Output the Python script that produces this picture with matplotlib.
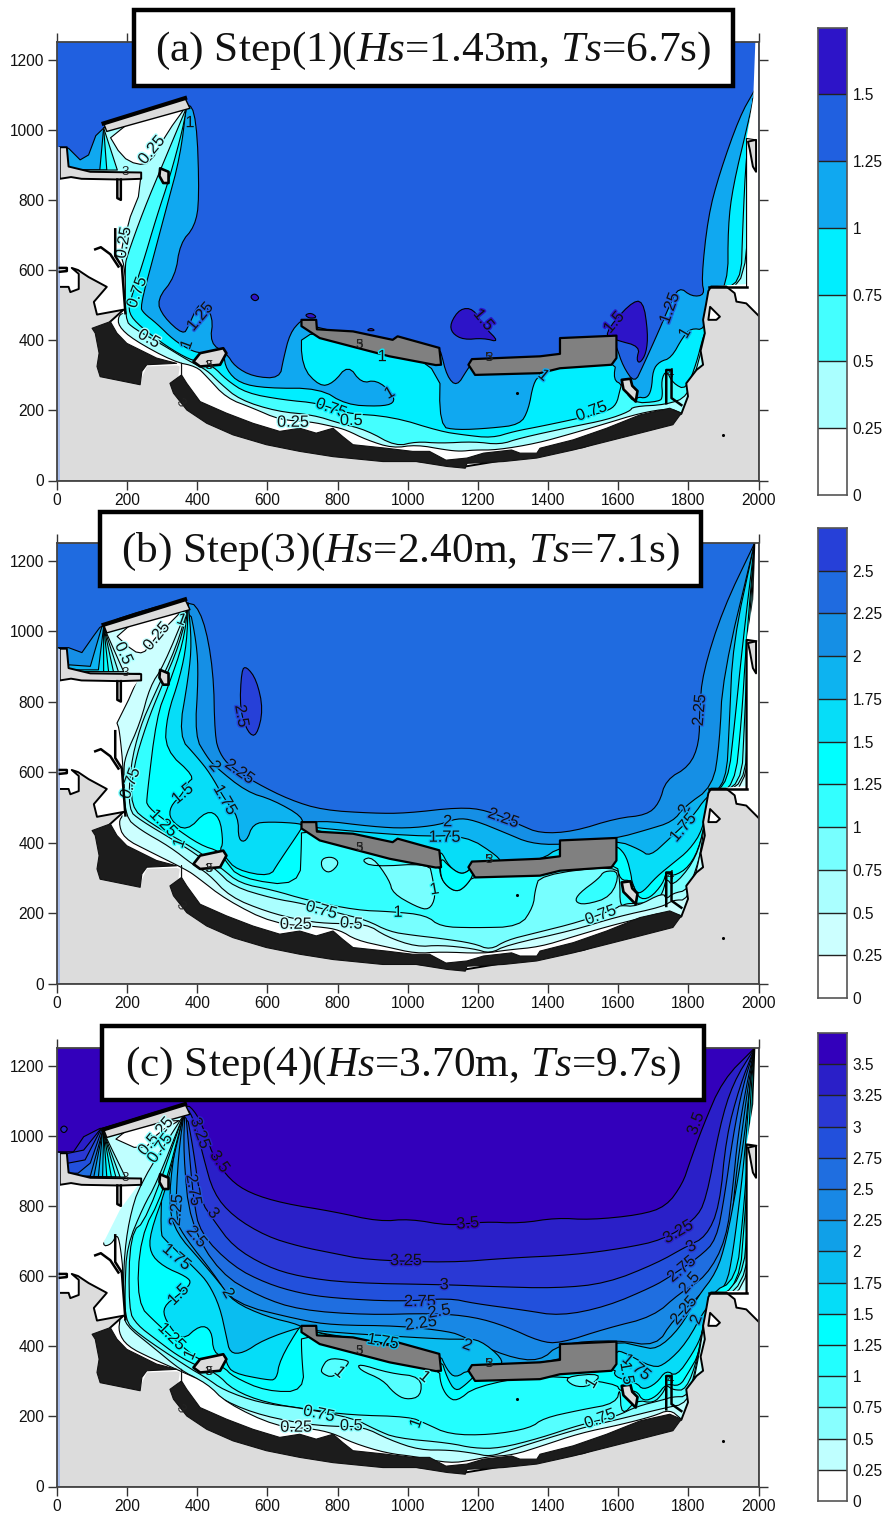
import matplotlib
matplotlib.use("Agg")
import matplotlib.pyplot as plt
import matplotlib.patheffects as pe
from matplotlib.patches import Rectangle

plt.rcParams['font.family'] = ['Liberation Sans', 'DejaVu Sans']
plt.rcParams['mathtext.fontset'] = 'custom'
plt.rcParams['mathtext.it'] = 'Liberation Serif:italic'
plt.rcParams['mathtext.rm'] = 'Liberation Serif'

W, H = 885, 1514

# ---------- band colours (lowest band first) ----------
COLORS_A = ['#FFFFFF', '#AAFFFF', '#44FFFF', '#00EEFF', '#10A8F0', '#2060E0', '#2D14C8']
COLORS_B = ['#FFFFFF', '#CCFFFF', '#AAFFFF', '#77FFFF', '#33FFFF', '#00FFFF', '#06DDF8',
            '#0DB3F0', '#158FE5', '#1F6BE0', '#2640D8']
COLORS_C = ['#FFFFFF', '#BFFFFF', '#88FFFF', '#55FFFF', '#22FFFF', '#00FFFF', '#05DDF8',
            '#0ABDF0', '#10A0E8', '#1888E5', '#1F6EE0', '#2250DC', '#2A38D4', '#2A1FC8', '#3300BB']
CB_LABELS_A = ['0', '0.25', '0.5', '0.75', '1', '1.25', '1.5']
CB_LABELS_B = CB_LABELS_A + ['1.75', '2', '2.25', '2.5']
CB_LABELS_C = CB_LABELS_B + ['2.75', '3', '3.25', '3.5']

# ---------- coast geometry shared by the panels ----------
WEST_WHITE = [(8,860),(232,860),(180,790),(125,680),(166,640),(185,610),(195,477),(8,477)]
EAST_WHITE = [(1860,553),(1908,553),(1932,534),(1937,510),(1965,505),(1993,477),(2000,470),
              (2000,1250),(1991,1250),(1985,1090),(1966,975),(1966,560)]
LAND_MAIN = [(8,552),(33,552),(38,537),(62,546),(62,589),(42,606),(60,600),(90,580),(142,552),(105,509),
             (114,473),(190,487),(152,453),(100,434),(130,420),(130,320),(180,290),(240,290),(256,325),
             (341,328),(350,325),(345,290),(400,200),(500,150),(900,70),(1164,40),(1500,95),(1780,190),
             (1799,240),(1794,277),(1823,315),(1842,330),(1835,370),(1847,420),(1842,458),(1850,500),
             (1857,540),(1865,553),(1908,553),(1932,534),(1937,510),(1965,505),(1993,477),(2000,470),
             (2000,0),(8,0)]
NORTH_STRIP = [(8,950),(28,950),(33,895),(95,880),(240,878),(240,860),(180,858),(70,860),(40,865),(8,860)]
EAST_POCKET_GRAY = [(1970,966),(1993,971),(1993,880),(1984,895),(1975,944)]
EAST_POCKET_WHITE = [(1862,495),(1890,467),(1880,458),(1857,458)]
BLACK_WEST = [(100,434),(152,453),(171,420),(199,391),(284,349),(341,334),(256,330),(242,311),
              (237,273),(123,296),(114,325),(120,363),(109,420)]
BLACK_SOUTH = [(355,334),(355,301),(370,277),(408,225),(483,192),(559,163),(635,140),(692,149),
               (739,135),(787,149),(815,125),(844,102),(939,92),(1014,83),(1062,83),(1109,58),
               (1169,64),(1216,78),(1296,87),(1320,78),(1368,78),(1377,92),(1472,116),(1567,149),
               (1662,187),(1747,206),(1780,192),(1756,159),(1662,135),(1567,111),(1472,87),
               (1368,64),(1273,54),(1169,49),(1164,35),(1112,40),(1024,54),(929,54),(787,68),
               (692,83),(597,102),(502,130),(427,163),(370,201),(332,249),(322,277),(355,301)]
WEST_BW = [(697,458),(739,458),(741,431),(844,425),(957,401),(971,411),(1090,378),(1095,330),
           (1080,329),(948,354),(749,406),(697,440)]
EAST_BW = [(1173,330),(1183,346),(1377,354),(1434,361),(1434,406),(1595,413),(1595,349),(1581,330),
           (1434,320),(1377,306),(1192,301)]
NW_BW = [(133,1018),(365,1090),(379,1061),(142,995)]
ISLE_SMALL = [(294,890),(318,880),(318,848),(303,848),(292,868)]
ISLE_WEST = [(389,339),(408,363),(474,377),(483,363),(465,330),(408,325)]
ISLE_EAST = [(1610,287),(1635,290),(1640,270),(1655,255),(1650,225),(1615,260)]
PIER_A = [(172,858),(172,805),(182,800),(182,858)]
PIER_B = [(166,716),(166,640),(185,610),(195,477)]
PIER_C = [(109,659),(125,665),(152,645),(175,610)]
PIER_D = [(1737,220),(1737,315),(1752,315),(1752,235),(1780,215)]
PIER_F = [(8,595),(28,597),(28,606),(8,606)]
EAST_EDGE = [(1966,553),(1966,975),(1993,971)]
EAST_SILL = [(1860,553),(1966,553)]
DOTS = [(1900,130),(1312,250)]
LAND_TEXT = [(860,385,'5',0),(862,385,'3',0),(1230,350,'5',0),(1232,350,'3',0),(432,325,'3',0),
             (434,325,'5',0),(350,220,'3',-50),(195,880,'3',0),(1748,305,'4',0)]

# ---------- panel (a): region below each contour level ----------
A_125 = [(33,947),(66,914),(90,928),(123,1016),(370,1085),(398,1037),(406,800),(393,724),(351,676),
         (337,581),(284,515),(303,467),(360,415),(375,440),(408,515),(446,467),(436,391),(483,363),
         (507,325),(559,296),(635,291),(645,344),(664,420),(697,458),(697,445),(1093,360),(1093,372),
         (1112,296),(1140,268),(1169,315),(1180,330),(1377,335),(1590,385),(1595,382),(1614,325),
         (1647,277),(1670,325),(1717,429),(1745,496),(1773,553),(1810,524),(1847,529),(1837,572),
         (1856,752),(1889,876),(1946,1037),(1989,1113)]
A_100 = [(122,885),(133,1005),(370,1075),(351,923),(313,781),(275,638),(237,496),(247,477),(284,448),
         (332,401),(379,372),(408,363),(474,363),(483,315),(521,277),(597,263),(749,263),(824,216),
         (919,211),(962,220),(957,249),(910,287),(868,277),(830,330),(787,277),(749,268),(697,325),
         (697,445),(1093,350),(1090,154),(1140,144),(1235,149),(1320,159),(1344,201),(1358,277),
         (1377,301),(1377,330),(1595,345),(1586,287),(1612,273),(1609,239),(1638,211),(1652,239),
         (1681,234),(1695,258),(1699,315),(1718,339),(1751,349),(1785,410),(1808,434),(1846,429),
         (1855,500),(1913,556),(1913,724),(1927,838),(1970,1018),(1989,1104)]
A_075 = [(142,885),(133,1005),(370,1070),(360,1008),(322,866),(284,752),(242,610),(209,515),(204,477),
         (237,439),(313,382),(379,344),(408,340),(446,325),(483,287),(540,249),(644,230),(749,220),
         (815,192),(957,182),(1093,140),(1159,130),(1240,121),(1303,140),(1377,154),(1491,178),
         (1567,197),(1595,216),(1605,258),(1612,282),(1638,220),(1718,225),(1727,239),(1723,287),
         (1737,315),(1756,277),(1794,258),(1823,334),(1842,410),(1852,429),(1870,550),(1950,556),
         (1955,724),(1965,930),(1985,1090)]
A_050 = [(172,885),(133,1005),(370,1065),(303,905),(247,771),(199,638),(194,610),(194,458),(218,434),
         (294,391),(379,339),(427,315),(465,277),(521,230),(626,197),(730,187),(806,163),(882,144),
         (966,97),(1024,111),(1093,106),(1188,111),(1263,102),(1320,121),(1472,154),(1567,173),
         (1633,197),(1642,211),(1737,216),(1799,239),(1828,334),(1852,434),(1875,550),(1966,556),
         (1972,900),(1988,1095)]
A_025 = [(240,875),(232,809),(209,752),(199,714),(180,648),(195,600),(194,480),(175,470),(175,440),
         (218,401),(332,339),(398,325),(427,296),(483,235),(559,206),(635,173),(720,168),(787,154),
         (825,144),(882,116),(957,92),(1024,102),(1109,87),(1150,83),(1188,87),(1254,87),(1368,106),
         (1472,135),(1567,163),(1662,192),(1747,206),(1780,192)]
A_TRI = [(142,995),(185,923),(228,900),(266,905),(313,990),(375,1076)]
A_P1 = [(1121,448),(1149,490),(1187,490),(1216,440),(1262,394),(1216,406),(1159,401),(1126,420)]
A_P2 = [(1557,415),(1633,505),(1671,515),(1685,420),(1680,363),(1662,334),(1652,344),(1662,382),(1595,400)]
A_P3 = [(550,524),(564,534),(578,520),(564,510)]
A_P4 = [(706,472),(725,478),(742,465),(720,462)]
A_P5 = [(882,427),(895,435),(908,427)]
A_BASE = (5, [(6,A_P1),(6,A_P2),(6,A_P3),(6,A_P4),(6,A_P5)])
A_LEVELS = [(5,A_125,[]),(4,A_100,[]),(3,A_075,[]),(2,A_050,[]),(1,A_025,[(0,A_TRI)])]
A_TEXT = [(270,942,'0.25',50,1),(190,678,'0.25',80,1),(228,536,'0.75',70,2),(408,467,'1.25',50,5),
          (370,387,'1',70,4),(379,1020,'1',0,4),(262,404,'0.5',-30,1),(782,206,'0.75',-20,3),
          (673,166,'0.25',0,1),(839,171,'0.5',0,2),(948,249,'1',30,4),(1216,458,'1.5',-50,6),
          (1588,450,'1.5',50,6),(1747,491,'1.25',70,5),(1790,420,'1',60,4),(1524,197,'0.75',20,3),
          (1387,300,'1',-40,4),(927,353,'1',0,3)]

# ---------- panel (b) ----------
B_225 = [(33,953),(71,939),(104,986),(133,1025),(374,1095),(417,1042),(446,890),(450,701),(464,653),
         (493,616),(569,568),(664,521),(758,492),(901,483),(995,483),(1147,500),(1225,492),(1320,450),
         (1377,426),(1472,431),(1595,469),(1681,478),(1717,511),(1736,578),(1803,616),(1831,682),
         (1832,776),(1841,881),(1898,1061),(1989,1250)]
B_200 = [(38,904),(95,900),(128,1013),(374,1085),(398,966),(403,871),(393,701),(427,644),(450,616),
         (540,544),(616,521),(701,473),(697,445),(744,464),(901,445),(995,440),(1090,450),(1140,469),
         (1188,464),(1282,426),(1348,398),(1434,393),(1595,412),(1681,436),(1756,459),(1789,502),
         (1870,559),(1889,682),(1898,872),(1989,1250)]
B_175 = [(118,890),(133,1013),(374,1080),(384,966),(375,871),(346,701),(398,644),(436,597),(479,521),
         (517,473),(517,407),(540,402),(559,454),(607,459),(697,454),(697,445),(1024,417),(1164,421),
         (1259,360),(1265,340),(1380,350),(1434,388),(1595,407),(1662,380),(1690,360),(1747,412),
         (1813,474),(1851,530),(1908,568),(1917,739),(1927,966),(1989,1250)]
B_150 = [(133,885),(133,1013),(374,1078),(370,966),(351,871),(313,758),(308,663),(393,587),(370,568),
         (358,538),(322,502),(322,464),(370,431),(427,492),(464,473),(474,398),(464,379),(479,360),
         (512,322),(607,303),(630,341),(701,445),(697,445),(1090,350),(1093,379),(1118,332),(1150,310),
         (1172,318),(1180,330),(1377,335),(1590,385),(1600,388),(1624,360),(1638,303),(1638,293),
         (1652,256),(1671,260),(1709,303),(1756,341),(1803,379),(1841,436),(1861,540),(1913,568),
         (1932,739),(1955,966),(1989,1250)]
B_125 = [(147,885),(133,1013),(374,1076),(360,966),(317,843),(284,758),(256,530),(256,502),(332,445),
         (408,393),(464,375),(479,350),(521,298),(692,275),(697,398),(697,445),(1090,340),(1093,303),
         (1112,275),(1140,260),(1164,275),(1188,308),(1377,320),(1595,345),(1605,293),(1638,293),
         (1657,241),(1690,241),(1728,284),(1737,317),(1756,303),(1803,331),(1836,398),(1861,530),
         (1932,558),(1951,739),(1965,966),(1989,1250)]
B_100 = [(161,885),(133,1013),(374,1074),(351,966),(294,833),(256,739),(218,616),(209,502),(265,455),
         (398,379),(469,327),(521,284),(616,265),(711,237),(853,208),(954,204),(1052,194),(1093,161),
         (1188,158),(1320,161),(1358,218),(1363,265),(1377,308),(1595,335),(1605,293),(1605,218),
         (1624,227),(1652,227),(1709,232),(1728,260),(1737,300),(1756,275),(1813,341),(1841,417),
         (1855,540),(1951,558),(1960,739),(1970,966),(1989,1250)]
B_075 = [(175,885),(133,1013),(374,1072),(341,956),(275,814),(237,729),(209,616),(204,492),(237,464),
         (332,407),(394,369),(455,322),(502,275),(616,241),(701,227),(806,199),(882,180),(948,147),
         (1014,137),(1093,128),(1188,114),(1235,95),(1282,123),(1358,142),(1491,175),(1595,213),
         (1605,222),(1652,218),(1728,258),(1737,239),(1756,256),(1799,265),(1828,341),(1851,445),
         (1860,540),(1960,558),(1970,739),(1976,966),(1989,1250)]
B_050 = [(190,885),(133,1013),(374,1070),(303,900),(265,843),(237,739),(194,644),(190,597),(194,473),
         (237,436),(322,388),(389,336),(431,312),(493,246),(597,204),(692,180),(768,170),(882,170),
         (939,133),(1024,104),(1093,109),(1188,99),(1235,85),(1282,109),(1472,151),(1595,189),(1728,218),
         (1756,237),(1799,237),(1832,350),(1851,492),(1965,558),(1975,739),(1982,966),(1989,1250)]
B_025 = [(237,880),(204,805),(171,739),(178,720),(190,600),(190,480),(175,459),(190,412),(265,374),
         (370,322),(398,303),(483,237),(616,170),(749,161),(806,152),(853,123),(939,104),(1024,85),
         (1093,90),(1216,85),(1282,95),(1377,104),(1472,133),(1567,161),(1662,185),(1737,204),(1780,192)]
B_TRI = [(156,999),(218,942),(246,937),(265,960),(284,985),(360,1061),(370,1075)]
B_P25 = [(526,890),(540,900),(569,862),(588,777),(569,701),(545,710),(521,777)]
B_LOW1 = [(754,355),(787,360),(806,341),(777,312),(754,327)]
B_LOW2 = [(867,350),(900,360),(948,293),(957,256),(1024,218),(1061,208),(1080,246),(1070,303),
          (1061,341),(900,331)]
B_HIGH1 = [(1560,320),(1545,298),(1488,256),(1476,232),(1505,223),(1581,246),(1605,318)]
B_POCKET_150 = [(1093,360),(1118,332),(1150,310),(1172,318),(1180,330),(1188,308),(1164,275),(1140,260),(1112,275),(1093,303)]
B_BASE = (9, [(10,B_P25)])
B_LEVELS = [(9,B_225,[]),(8,B_200,[]),(7,B_175,[]),(6,B_150,[]),(5,B_125,[(5,B_POCKET_150)]),
            (4,B_100,[(3,B_LOW1),(3,B_LOW2),(4,B_HIGH1)]),(3,B_075,[]),(2,B_050,[]),(1,B_025,[(0,B_TRI)])]
B_TEXT = [(284,985,'0.25',50,1),(190,937,'0.5',-65,2),(355,1032,'1',-20,3),(526,759,'2.5',-80,10),
          (450,616,'2',-50,8),(521,601,'2.25',-35,9),(479,521,'1.75',-60,7),(358,538,'1.5',40,6),
          (303,455,'1.25',-45,5),(349,398,'1',70,4),(209,568,'0.75',70,3),(754,208,'0.75',-15,3),
          (681,168,'0.25',0,1),(839,170,'0.5',-5,2),(972,202,'1',0,4),(1076,267,'1',10,4),
          (1114,459,'2',0,8),(1105,415,'1.75',0,7),(1273,469,'2.25',-20,9),(1832,776,'2.25',85,9),
          (1789,494,'2',65,8),(1785,442,'1.75',50,7),(1550,194,'0.75',20,3)]

# ---------- panel (c) ----------
C_350 = [(47,954),(76,997),(123,1021),(133,1020),(365,1095),(398,1064),(427,997),(446,940),(493,874),
         (550,836),(645,807),(787,784),(919,755),(1005,763),(1119,743),(1216,755),(1320,750),(1424,766),
         (1519,760),(1661,774),(1737,798),(1784,864),(1803,921),(1841,1026),(1898,1159),(1989,1250)]
C_325 = [(33,950),(76,959),(125,1020),(365,1090),(393,1040),(417,940),(446,836),(502,770),(597,713),
         (692,684),(787,665),(882,646),(1119,638),(1282,651),(1472,660),(1614,679),(1728,703),(1818,760),
         (1851,817),(1889,1026),(1927,1150),(1989,1250)]
C_300 = [(33,922),(80,931),(125,1018),(365,1088),(389,960),(408,817),(446,760),(502,684),(597,627),
         (692,598),(834,580),(1119,575),(1235,570),(1424,565),(1567,579),(1709,636),(1794,684),(1851,712),
         (1889,798),(1908,997),(1946,1140),(1989,1250)]
C_275 = [(60,893),(95,922),(127,1015),(365,1086),(374,988),(389,817),(408,722),(502,627),(597,579),
         (692,551),(787,537),(976,527),(1119,537),(1188,522),(1330,503),(1434,486),(1567,513),(1700,570),
         (1747,598),(1832,655),(1880,703),(1903,826),(1927,997),(1955,1140),(1989,1250)]
C_250 = [(95,885),(130,1013),(365,1084),(360,950),(379,750),(464,608),(578,541),(692,503),(882,489),
         (1071,494),(1188,484),(1282,456),(1377,413),(1434,408),(1567,451),(1700,484),(1775,551),(1851,598),
         (1908,703),(1927,855),(1941,997),(1965,1140),(1989,1250)]
C_225 = [(105,883),(130,1012),(365,1082),(346,950),(337,760),(370,703),(446,608),(502,522),(692,475),
         (787,460),(976,458),(1119,442),(1159,427),(1282,370),(1377,356),(1434,408),(1595,418),(1709,399),
         (1756,475),(1851,561),(1917,665),(1932,855),(1951,997),(1970,1140),(1989,1250)]
C_200 = [(118,882),(130,1011),(365,1080),(332,950),(318,798),(341,722),(408,646),(464,580),(502,527),
         (597,484),(697,460),(697,445),(1093,420),(1159,420),(1206,418),(1270,365),(1265,340),(1434,360),
         (1595,415),(1660,400),(1710,390),(1775,450),(1826,540),(1880,610),(1908,700),(1938,855),(1960,1000),
         (1975,1140),(1989,1250)]
C_175 = [(130,882),(133,1010),(365,1078),(303,931),(294,722),(308,703),(398,617),(432,579),(464,513),
         (483,427),(493,380),(531,380),(588,418),(697,456),(697,445),(1088,385),(1112,332),(1136,309),
         (1176,335),(1377,335),(1595,380),(1605,389),(1700,337),(1737,351),(1794,408),(1851,513),(1908,570),
         (1927,665),(1951,855),(1965,997),(1975,1140),(1989,1250)]
C_150 = [(142,882),(133,1010),(365,1076),(313,855),(265,722),(265,665),(303,627),(370,598),(384,579),
         (346,546),(303,513),(308,475),(355,413),(408,461),(441,446),(446,380),(483,370),(483,351),(502,323),
         (597,304),(626,304),(635,361),(697,465),(697,445),(1093,370),(1112,310),(1136,270),(1165,290),
         (1195,320),(1377,335),(1595,340),(1586,313),(1652,296),(1671,275),(1709,294),(1737,332),(1766,313),
         (1813,380),(1841,437),(1861,551),(1937,589),(1955,760),(1970,950),(1979,1140),(1989,1250)]
C_125 = [(155,882),(133,1010),(365,1074),(303,836),(237,712),(228,522),(284,465),(379,380),(408,361),
         (474,342),(502,313),(597,271),(706,271),(697,380),(697,445),(1090,340),(1093,294),(1112,256),
         (1140,242),(1192,285),(1377,320),(1595,294),(1605,270),(1652,275),(1671,242),(1709,256),(1737,294),
         (1775,285),(1799,323),(1832,380),(1851,503),(1946,579),(1960,760),(1975,950),(1989,1250)]
C_100 = [(168,882),(133,1010),(365,1072),(256,760),(208,722),(204,503),(228,461),(284,418),(341,375),
         (393,347),(455,323),(502,275),(597,238),(730,218),(834,204),(1005,199),(1050,180),(1119,148),
         (1235,147),(1349,166),(1387,195),(1491,218),(1595,237),(1605,285),(1609,199),(1652,247),(1700,237),
         (1728,266),(1737,290),(1756,275),(1794,275),(1828,370),(1851,513),(1955,589),(1970,760),(1979,950),
         (1989,1250)]
C_075 = [(180,882),(133,1010),(365,1070),(284,865),(246,798),(199,684),(194,570),(194,475),(228,437),
         (370,342),(427,309),(474,275),(578,238),(700,223),(844,195),(911,161),(967,138),(1119,124),
         (1188,109),(1263,109),(1377,138),(1491,176),(1595,200),(1652,228),(1728,247),(1756,256),(1799,256),
         (1823,342),(1851,513),(1960,570),(1979,760),(1984,950),(1989,1250)]
C_050 = [(195,882),(133,1010),(365,1065),(237,865),(205,760),(190,640),(190,500),(195,460),(270,400),
         (355,330),(408,304),(455,256),(559,209),(692,180),(787,171),(872,171),(948,133),(1033,104),
         (1119,104),(1188,95),(1235,85),(1291,104),(1491,166),(1595,190),(1728,223),(1799,237),(1823,332),
         (1851,503),(1965,560),(1984,760),(1989,1250)]
C_025 = [(228,874),(180,798),(142,750),(128,684),(155,690),(171,720),(180,690),(190,600),(180,480),
         (175,440),(200,400),(270,365),(350,330),(427,295),(483,238),(625,171),(720,166),(787,152),
         (844,124),(939,95),(1024,85),(1119,66),(1188,76),(1230,85),(1301,90),(1377,114),(1491,152),
         (1605,176),(1699,200),(1747,220),(1780,192)]
C_TRI = [(142,1002),(246,955),(284,1007),(370,1055)]
C_OVAL = [(8,1018),(19,1030),(32,1020),(20,1006)]
C_LOW1 = [(754,337),(773,366),(825,361),(834,351),(787,309),(754,323)]
C_LOW2 = [(858,351),(948,323),(1038,313),(1038,257),(995,247),(961,266),(929,304),(863,332)]
C_LOW3 = [(1444,313),(1472,285),(1519,285),(1557,323)]
C_BASE = (14, [(13,C_OVAL)])
C_LEVELS = [(14,C_350,[]),(13,C_325,[]),(12,C_300,[]),(11,C_275,[]),(10,C_250,[]),(9,C_225,[]),(8,C_200,[]),
            (7,C_175,[]),(6,C_150,[]),(5,C_125,[]),(4,C_100,[(3,C_LOW1),(3,C_LOW2),(3,C_LOW3)]),
            (3,C_075,[]),(2,C_050,[]),(1,C_025,[(0,C_TRI)])]
C_TEXT = [(294,1012,'0.25',50,1),(261,974,'0.5',50,2),(294,964,'0.75',55,3),(408,1007,'3.25',-70,13),
          (464,926,'3.5',-55,14),(389,845,'2.75',-80,11),(446,779,'3',-50,12),(341,788,'2.25',85,9),
          (398,712,'2.5',-50,10),(341,654,'1.75',-40,7),(488,551,'2',-60,8),(346,546,'1.5',45,6),
          (327,427,'1.25',-45,5),(379,375,'1',65,4),(995,644,'3.25',0,13),(1035,527,'2.75',0,11),
          (1038,465,'2.25',8,9),(1090,499,'2.5',10,10),(1104,575,'3',0,12),(747,207,'0.75',-12,3),
          (682,169,'0.25',0,1),(839,173,'0.5',0,2),(1024,180,'1',70,4),(806,326,'1',-40,3),
          (1048,313,'1',-40,3),(1171,750,'3.5',5,14),(1821,1034,'3.5',70,14),(1771,726,'3.25',30,13),
          (1808,684,'3',30,12),(1781,620,'2.75',40,11),(1803,580,'2.5',50,10),(1787,502,'2.25',50,9),
          (1823,476,'2',70,8),(1170,403,'2',-20,8),(1652,340,'1.75',-40,7),(1624,323,'1.5',-80,6),
          (1524,294,'1',60,3),(1548,193,'0.75',20,3),(929,413,'1.75',-10,7)]

TITLE_A = r'(a) Step(1)($\mathit{Hs}$=1.43m, $\mathit{Ts}$=6.7s)'
TITLE_B = r'(b) Step(3)($\mathit{Hs}$=2.40m, $\mathit{Ts}$=7.1s)'
TITLE_C = r'(c) Step(4)($\mathit{Hs}$=3.70m, $\mathit{Ts}$=9.7s)'
XTICKS = list(range(0, 2001, 200))
YTICKS = list(range(0, 1201, 200))

fig = plt.figure(figsize=(W/100, H/100), dpi=100, facecolor='white')


def rect(x0, ytop, x1, ybot):
    return [x0/W, 1-ybot/H, (x1-x0)/W, (ybot-ytop)/H]


def smooth(pts, closed=False, n=2):
    """Corner rounding of a hand-read contour, only for its drawn appearance."""
    p = list(pts)
    for _ in range(n):
        q = [p[0]] if not closed else []
        m = len(p) if closed else len(p)-1
        for i in range(m):
            a, b = p[i], p[(i+1) % len(p)]
            q.append((0.75*a[0]+0.25*b[0], 0.75*a[1]+0.25*b[1]))
            q.append((0.25*a[0]+0.75*b[0], 0.25*a[1]+0.75*b[1]))
        if not closed:
            q.append(p[-1])
        p = q
    return p


def poly(ax, pts, fc, ec='k', lw=0.8, z=1):
    xs, ys = zip(*pts)
    ax.fill(xs, ys, facecolor=fc, edgecolor=ec, linewidth=lw, zorder=z, joinstyle='round')


def line(ax, pts, lw=1.8, z=6):
    xs, ys = zip(*pts)
    ax.plot(xs, ys, color='k', lw=lw, zorder=z, solid_joinstyle='round')


def panel(box, colors, base, levels, labels, cbbox, cblabels, title, tbox, tx, edge_lw):
    ax = fig.add_axes(rect(*box))
    ax.set_xlim(0, 2000)
    ax.set_ylim(0, 1250)
    ax.set_facecolor(colors[base[0]])
    for band, pts in base[1]:
        poly(ax, smooth(pts, closed=True), colors[band], z=1)
    z = 2
    for band, chain, pockets in levels:
        # fan lines keep their straight run to the breakwater tips
        drawn = list(chain[:2]) + smooth(chain[2:])
        closed = drawn + [(2000, 0), (0, 0), (0, chain[0][1])]
        poly(ax, closed, colors[band-1], z=z)
        z += 0.1
        for pband, pts in pockets:
            poly(ax, smooth(pts, closed=True, n=1 if pband == 0 else 2), colors[pband], z=z)
            z += 0.01
    # land
    L = 5
    poly(ax, WEST_WHITE, 'white', ec='none', lw=0, z=L)
    poly(ax, EAST_WHITE, 'white', ec='none', lw=0, z=L)
    poly(ax, LAND_MAIN, '#DCDCDC', ec='none', lw=0, z=L+.1)
    line(ax, LAND_MAIN[:13], lw=1.4, z=L+.15)
    line(ax, LAND_MAIN[24:44], lw=1.4, z=L+.15)
    poly(ax, NORTH_STRIP, '#DCDCDC', ec='k', lw=1.4, z=L+.1)
    poly(ax, EAST_POCKET_GRAY, '#DCDCDC', ec='k', lw=1.4, z=L+.2)
    poly(ax, EAST_POCKET_WHITE, 'white', ec='k', lw=1.4, z=L+.2)
    poly(ax, BLACK_WEST, '#1C1C1C', ec='#111111', lw=0.8, z=L+.3)
    poly(ax, BLACK_SOUTH, '#1C1C1C', ec='#111111', lw=0.8, z=L+.3)
    poly(ax, WEST_BW, '#808080', ec='k', lw=1.6, z=L+.4)
    poly(ax, EAST_BW, '#808080', ec='k', lw=1.6, z=L+.4)
    poly(ax, NW_BW, '#DCDCDC', ec='k', lw=1.0, z=L+.4)
    line(ax, NW_BW[:2], lw=3, z=L+.5)
    poly(ax, ISLE_SMALL, '#DCDCDC', ec='k', lw=1.9, z=L+.4)
    poly(ax, ISLE_WEST, '#DCDCDC', ec='k', lw=1.9, z=L+.4)
    poly(ax, ISLE_EAST, '#DCDCDC', ec='k', lw=1.9, z=L+.4)
    for p in (PIER_A, PIER_B, PIER_C, PIER_D, PIER_F, EAST_SILL):
        line(ax, p)
    line(ax, EAST_EDGE, lw=edge_lw)
    ax.add_patch(Rectangle((0, 0), 8, 950, fc='#A8BCE8', ec='none', zorder=L+.5))
    xs, ys = zip(*DOTS)
    ax.scatter(xs, ys, s=5, c='k', zorder=L+.5, linewidths=0)
    for x, y, s, rot in LAND_TEXT:
        ax.text(x, y, s, rotation=rot, fontsize=9.5, color='#222222', ha='center', va='center', zorder=L+.6)
    for x, y, s, rot, band in labels:
        t = ax.text(x, y, s, rotation=rot, fontsize=11.8, color='#111111', ha='center', va='center',
                    zorder=L+.7, rotation_mode='anchor')
        t.set_path_effects([pe.withStroke(linewidth=2, foreground=colors[band])])
    ax.set_xticks(XTICKS)
    ax.set_yticks(YTICKS)
    ax.tick_params(which='major', direction='out', length=6.5, width=1.0, color='#333333',
                   top=True, right=True, labelsize=11.2, pad=2.5, labelcolor='#111111')
    for s in ax.spines.values():
        s.set_color('#444444')
        s.set_linewidth(1.3)
        s.set_zorder(L+1)
    # colour bar
    cax = fig.add_axes(rect(*cbbox))
    n = len(colors)
    for i, c in enumerate(colors):
        cax.bar(0.5, 0.25, bottom=i*0.25, width=1, color=c, edgecolor='none')
        if i:
            cax.plot([0, 1], [i*0.25]*2, color='#222222', lw=1.0)
    cax.set_xlim(0, 1)
    cax.set_ylim(0, n*0.25)
    cax.set_xticks([])
    cax.yaxis.tick_right()
    cax.set_yticks([i*0.25 for i in range(len(cblabels))], cblabels)
    cax.tick_params(axis='y', length=0, labelsize=11.2, pad=4, labelcolor='#111111')
    for s in cax.spines.values():
        s.set_color('#555555')
        s.set_linewidth(1.2)
    # title box
    x0, y0, x1, y1 = tbox
    fig.add_artist(Rectangle((x0/W, 1-y1/H), (x1-x0)/W, (y1-y0)/H, transform=fig.transFigure,
                             fc='white', ec='k', lw=3.2, zorder=20))
    fig.text(tx/W, 1-((y0+y1)/2+3)/H, title, fontsize=31.2, family='Liberation Serif',
             ha='center', va='center', zorder=21, color='#111111')


panel((57, 42, 758.5, 480.5), COLORS_A, A_BASE, A_LEVELS, A_TEXT, (817.5, 27.5, 847, 495),
      CB_LABELS_A, TITLE_A, (134, 10, 733, 86), 433.5, 0.8)
panel((57, 543, 758.5, 983.5), COLORS_B, B_BASE, B_LEVELS, B_TEXT, (817.5, 528, 847, 998),
      CB_LABELS_B, TITLE_B, (100, 512, 701, 586), 400, 1.6)
panel((57, 1048, 758.5, 1486.5), COLORS_C, C_BASE, C_LEVELS, C_TEXT, (817.5, 1033, 847, 1501),
      CB_LABELS_C, TITLE_C, (102, 1026, 704, 1100), 403, 1.6)

fig.savefig('out.png', dpi=100)
